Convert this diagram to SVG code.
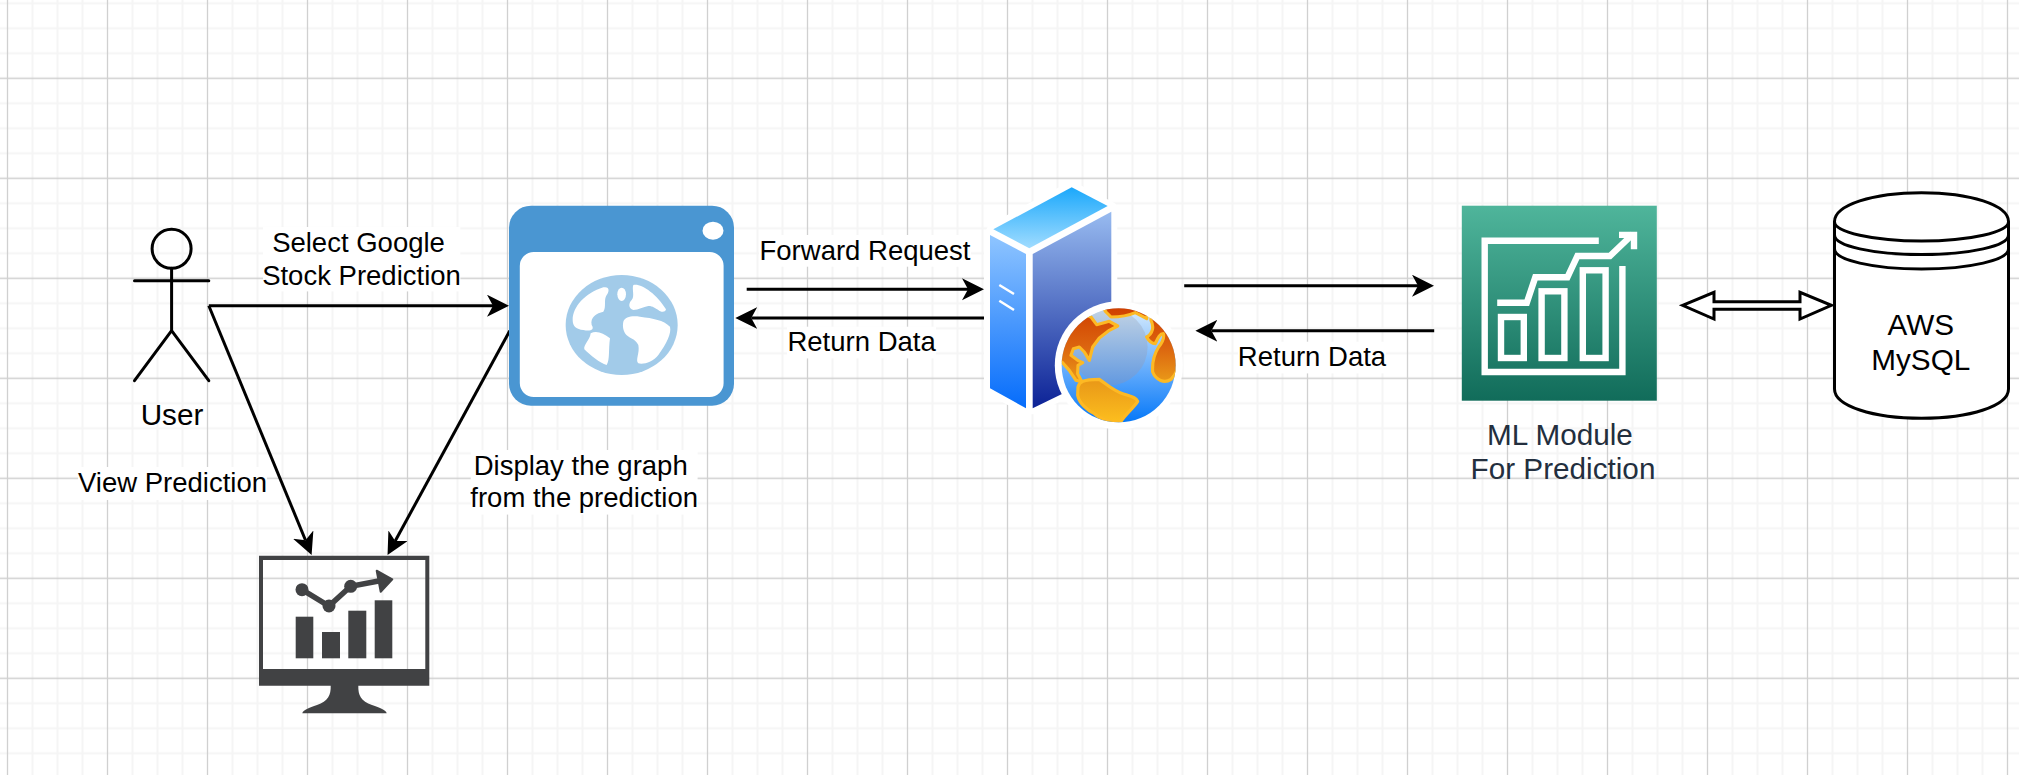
<svg xmlns="http://www.w3.org/2000/svg" width="2019" height="775" viewBox="0 0 2019 775">
<style>
text{font-family:"Liberation Sans",Arial,sans-serif;fill:#000;text-anchor:middle}
.lab{font-size:27.5px}
.big{font-size:29.7px}
.ml{fill:#232f3e}
.bg{fill:#fff}
.edge{fill:none;stroke:#000;stroke-width:3;marker-end:url(#head)}
.shape{fill:none;stroke:#000;stroke-width:3;stroke-linecap:round;stroke-linejoin:round}
.w{fill:none;stroke:#fff;stroke-width:6.4}
.dk{fill:#414244}
.land{fill:url(#landG);stroke:#fdb924;stroke-width:9.5;stroke-linejoin:round}
</style>
<defs>
<pattern id="grid" patternUnits="userSpaceOnUse" x="-55" y="15.8" width="100" height="100">
<path d="M12.5,0V100M37.5,0V100M87.5,0V100M0,12.5H100M0,37.5H100M0,87.5H100" fill="none" stroke="#f5f5f5" stroke-width="2"/>
<path d="M62.5,0V100M0,62.5H100" fill="none" stroke="#d0d0d0" stroke-width="1.3"/>
</pattern>
<marker id="head" markerUnits="userSpaceOnUse" markerWidth="24" markerHeight="24" refX="6" refY="11" orient="auto">
<path d="M0,0L22,11L0,22L6,11Z" fill="#000"/>
</marker>
<linearGradient id="topG" x1="0" y1="0" x2="0" y2="1"><stop offset="0" stop-color="#1ba8fb"/><stop offset="1" stop-color="#a0dcff"/></linearGradient>
<linearGradient id="leftG" x1="0" y1="0" x2="0" y2="1"><stop offset="0" stop-color="#8fc5ff"/><stop offset="1" stop-color="#056cfb"/></linearGradient>
<linearGradient id="rightG" x1="0" y1="0" x2="0" y2="1"><stop offset="0" stop-color="#98bbf0"/><stop offset="1" stop-color="#0c2296"/></linearGradient>
<linearGradient id="globeG" x1="0" y1="0" x2="0" y2="1"><stop offset="0" stop-color="#d8ecfd"/><stop offset=".55" stop-color="#62abfc"/><stop offset="1" stop-color="#0678f8"/></linearGradient>
<linearGradient id="innerG" x1="0" y1="0" x2="0" y2="1"><stop offset="0" stop-color="#c2d3e4"/><stop offset="1" stop-color="#6299e0"/></linearGradient>
<linearGradient id="landG" gradientUnits="userSpaceOnUse" x1="0" y1="20" x2="0" y2="360"><stop offset="0" stop-color="#d04000"/><stop offset=".35" stop-color="#dc6610"/><stop offset=".65" stop-color="#ea9a18"/><stop offset="1" stop-color="#fcbe1e"/></linearGradient>
<linearGradient id="mlG" x1="0" y1="0" x2="0" y2="1"><stop offset="0" stop-color="#4fb59b"/><stop offset="1" stop-color="#116c5a"/></linearGradient>
<clipPath id="gc"><circle cx="188" cy="190" r="171"/></clipPath>
</defs>
<rect width="2019" height="775" fill="#fff"/>
<rect width="2019" height="775" fill="url(#grid)"/>

<g id="connectors">
<path class="edge" d="M208.8,305.7H493"/>
<path class="edge" d="M208.8,305.7L305.5,540.2"/>
<path class="edge" d="M509.8,330.7L395.2,541"/>
<path class="edge" d="M746.7,289.3H968"/>
<path class="edge" d="M984.6,318H751.3"/>
<path class="edge" d="M1184.2,285.7H1418"/>
<path class="edge" d="M1434.2,330.7H1211.4"/>
<polygon id="db-link" points="1682.6,305.3 1714,292.3 1714,301.7 1800,301.7 1800,292.3 1831.4,305.3 1800,319 1800,309.3 1714,309.3 1714,319" fill="#fff" stroke="#000" stroke-width="3"/>
</g>

<g id="user">
<circle class="shape" cx="171.6" cy="248.8" r="19.5"/>
<path class="shape" d="M171.6,268.3V330.7M134.5,280.7H208.8M134.5,380.7L171.6,330.7L208.8,380.7"/>
<text class="big" x="172" y="424.5">User</text>
</g>

<g id="web-app">
<rect x="509" y="205.7" width="225" height="200" rx="22" fill="#4a96d2"/>
<rect x="519.8" y="252" width="203.8" height="145" rx="14" fill="#fff"/>
<ellipse cx="713" cy="230.7" rx="10.5" ry="9" fill="#fff"/>
<g transform="translate(560 270) scale(.33333)">
<ellipse cx="185" cy="165" rx="168" ry="150" fill="#a2cbe9"/>
<path fill="#fff" d="M38,150C38,110 75,70 130,52C150,48 148,65 140,75C130,90 140,110 130,125C110,130 90,140 95,165C105,180 90,185 70,180C50,178 38,170 38,150Z"/>
<path fill="#fff" d="M92,190C110,180 130,190 150,205C145,240 150,270 140,285C120,280 90,255 73,238C70,225 90,210 92,190Z"/>
<ellipse cx="185" cy="73" rx="13" ry="20" fill="#fff"/>
<path fill="#fff" d="M220,45C240,38 290,70 318,118C315,130 300,125 295,120C285,115 280,108 265,108C250,110 235,120 220,120C205,115 205,100 215,90C225,80 215,55 220,45Z"/>
<path fill="#fff" d="M190,155C195,140 215,137 240,140C280,145 310,150 330,170C335,190 320,220 295,255C280,275 250,285 235,280C225,270 240,250 235,225C225,205 205,205 195,190C188,175 188,165 190,155Z"/>
</g>
</g>

<g id="monitor">
<path class="dk" fill-rule="evenodd" d="M259,555.7H429.3V685.7H358.3C358,695 361,701 372,705C380,708 386,710 386.7,713.3H302.3C303,710 309,708 317,705C328,701 331,695 330.7,685.7H259ZM263,560V669H425.3V560Z"/>
<rect class="dk" x="295.7" y="616.7" width="17.6" height="41.6"/>
<rect class="dk" x="322" y="632" width="18" height="26.3"/>
<rect class="dk" x="348.3" y="610.7" width="18" height="47.6"/>
<rect class="dk" x="374.7" y="600.3" width="17.6" height="58"/>
<path d="M302,589.7L329,606L350.7,586.3L380,580.7" fill="none" stroke="#414244" stroke-width="5.5"/>
<circle class="dk" cx="302" cy="589.7" r="6.5"/>
<circle class="dk" cx="329" cy="606" r="6.5"/>
<circle class="dk" cx="350.7" cy="586.3" r="6.5"/>
<polygon class="dk" points="376.7,570.7 392.3,579.3 380.7,591.7" stroke="#414244" stroke-width="2" stroke-linejoin="round"/>
</g>

<g id="server">
<path d="M1071.7,187.3L1111.3,208V370L1032.7,408.3H1026L990,388.3V235L993.3,229.3Z" fill="#fff" stroke="#fff" stroke-width="12" stroke-linejoin="round"/>
<polygon points="1071.7,187.3 1107.7,206 1029.3,248.3 993.3,229.3" fill="url(#topG)"/>
<polygon points="990,235 1026,254 1026,408.3 990,388.3" fill="url(#leftG)"/>
<polygon points="1032.7,254 1111.3,211.7 1111.3,370 1032.7,408.3" fill="url(#rightG)"/>
<path d="M999.3,285L1014,294M999.3,300.7L1014,310" stroke="#fff" stroke-width="2.5"/>
<circle cx="1118.8" cy="365.3" r="64" fill="#fff"/>
<g transform="translate(1056 302) scale(.33333)">
<circle cx="188" cy="190" r="171" fill="url(#globeG)"/>
<circle cx="160" cy="135" r="115" fill="url(#innerG)" clip-path="url(#gc)"/>
<g clip-path="url(#gc)">
<path class="land" d="M105,45L122,68L160,58L185,72L160,85L130,108L110,135L100,175L85,150L70,135L52,140L45,160L65,175L80,182L66,190L65,215L78,240L60,235L40,205L18,180L0,180L0,60L60,30Z"/>
<path class="land" d="M165,45C190,45 215,42 238,32L272,50L280,0L130,0L150,30Z"/>
<path class="land" d="M66,255C70,240 80,232 130,232C150,245 170,265 200,275C220,282 240,285 245,298C235,315 210,335 195,358C170,365 130,350 115,335C95,325 70,305 65,280Z"/>
<path class="land" d="M285,55C295,75 290,95 272,105C280,120 290,125 298,125C305,110 310,95 322,95C325,105 320,120 308,135C295,155 288,180 290,210C300,235 325,245 345,232C360,215 370,200 375,150L330,60L285,40Z"/>
</g>
</g>
</g>

<g id="ml-module">
<rect x="1461.8" y="205.7" width="195" height="195" fill="url(#mlG)"/>
<path class="w" d="M1598.8,240.8H1484.7V372H1622.4V266"/>
<rect class="w" x="1501" y="317" width="22.8" height="41"/>
<rect class="w" x="1541.6" y="291.3" width="22.8" height="66.7"/>
<rect class="w" x="1582.8" y="270.3" width="22.8" height="87.7"/>
<path class="w" d="M1497.2,302.7H1526.8L1535.3,277.3H1567.4L1577.4,256H1609.9L1633,234"/>
<path class="w" d="M1619,234.9H1634V249.3"/>
<text class="big ml" x="1560" y="445">ML Module</text>
<text class="big ml" x="1563" y="479.3">For Prediction</text>
</g>

<g id="database">
<path class="shape" style="fill:#fff" d="M1834.5,221.7C1834.5,205 1873,192.7 1921.5,192.7C1970,192.7 2008.5,205 2008.5,221.7V389C2008.5,406 1970,418.3 1921.5,418.3C1873,418.3 1834.5,406 1834.5,389Z"/>
<path class="shape" d="M1834.5,221.7C1834.5,232 1873,241 1921.5,241C1970,241 2008.5,232 2008.5,221.7M1834.5,235C1834.5,246 1873,254.5 1921.5,254.5C1970,254.5 2008.5,246 2008.5,235M1834.5,249C1834.5,260 1873,269 1921.5,269C1970,269 2008.5,260 2008.5,249"/>
<text class="big" x="1920.8" y="334.5">AWS</text>
<text class="big" x="1920.8" y="369.8">MySQL</text>
</g>

<g id="labels">
<rect class="bg" x="263" y="227" width="197.4" height="64.4"/>
<text class="lab" x="358.5" y="252">Select Google</text>
<text class="lab" x="361.5" y="284.8">Stock Prediction</text>
<rect class="bg" x="78" y="467" width="189" height="33"/>
<text class="lab" x="172.5" y="491.8">View Prediction</text>
<rect class="bg" x="470.8" y="450" width="226.8" height="64.6"/>
<text class="lab" x="580.7" y="474.5">Display the graph</text>
<text class="lab" x="584.2" y="507">from the prediction</text>
<rect class="bg" x="759" y="235" width="212" height="31.7"/>
<text class="lab" x="865" y="259.6">Forward Request</text>
<rect class="bg" x="787" y="326.7" width="149" height="31.7"/>
<text class="lab" x="861.6" y="351.3">Return Data</text>
<rect class="bg" x="1238" y="341.7" width="148" height="31.7"/>
<text class="lab" x="1312" y="366.3">Return Data</text>
</g>
</svg>
